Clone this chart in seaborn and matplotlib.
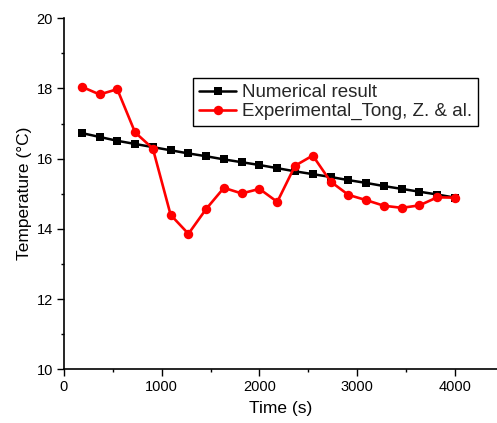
import matplotlib
matplotlib.use("Agg")
import matplotlib.pyplot as plt
from matplotlib.ticker import MultipleLocator
import seaborn as sns
import pandas as pd

# Sampling times (s)
time_s = [182, 364, 545, 727, 909, 1091, 1273, 1455, 1636, 1818, 2000,
          2182, 2364, 2545, 2727, 2909, 3091, 3273, 3455, 3636, 3818, 4000]

# Simulated temperature (°C)
numerical = [16.73, 16.62, 16.51, 16.42, 16.33, 16.24, 16.15, 16.07, 15.98, 15.90, 15.82,
             15.73, 15.64, 15.56, 15.48, 15.39, 15.31, 15.22, 15.14, 15.06, 14.98, 14.89]

# Measured temperature (°C)
experimental = [18.05, 17.83, 17.98, 16.75, 16.29, 14.40, 13.86, 14.57, 15.17, 15.01, 15.14,
                14.77, 15.80, 16.09, 15.35, 14.97, 14.82, 14.66, 14.60, 14.67, 14.90, 14.89]

label_num = "Numerical result"
label_exp = "Experimental_Tong, Z. & al."

df_num = pd.DataFrame({"Time": time_s, "Temperature": numerical})
df_exp = pd.DataFrame({"Time": time_s, "Temperature": experimental})

sns.set_style("ticks")
plt.rcParams["font.family"] = ["Liberation Sans", "DejaVu Sans"]

fig = plt.figure(figsize=(4.97, 4.23), dpi=100)
ax = fig.add_axes([64 / 497, 53.7 / 423, 433 / 497, 351 / 423])

sns.lineplot(data=df_num, x="Time", y="Temperature", ax=ax, color="black",
             marker="s", markersize=5.3, markeredgewidth=0, linewidth=1.8,
             label=label_num)
sns.lineplot(data=df_exp, x="Time", y="Temperature", ax=ax, color="#ff0000",
             marker="o", markersize=6.8, markeredgewidth=0, linewidth=1.9,
             label=label_exp)

ax.set_xlim(0, 4430)
ax.set_ylim(10, 20)
ax.xaxis.set_major_locator(MultipleLocator(1000))
ax.xaxis.set_minor_locator(MultipleLocator(500))
ax.yaxis.set_major_locator(MultipleLocator(2))
ax.yaxis.set_minor_locator(MultipleLocator(1))

ax.tick_params(axis="both", which="major", direction="out", length=5, width=1,
               labelsize=10.5, color="black", labelcolor="black", pad=3)
ax.tick_params(axis="both", which="minor", direction="out", length=2.5, width=1,
               color="black")

for side in ("top", "right"):
    ax.spines[side].set_visible(False)
for side in ("left", "bottom"):
    ax.spines[side].set_color("black")
    ax.spines[side].set_linewidth(1.2)

ax.set_xlabel("Time (s)", fontsize=12.5, color="black", labelpad=5)
ax.set_ylabel("Temperature (°C)", fontsize=12.5, color="black", labelpad=3)

leg = ax.legend(loc="upper left", bbox_to_anchor=(0.2986, 0.829), borderaxespad=0,
                fontsize=13.5, frameon=True, fancybox=False, handlelength=2.0,
                handletextpad=0.3, labelspacing=0.1, borderpad=0.3)
leg.get_frame().set_edgecolor("black")
leg.get_frame().set_linewidth(1)
leg.get_frame().set_facecolor("white")
leg.get_frame().set_alpha(1)

fig.savefig("out.png", dpi=100)
